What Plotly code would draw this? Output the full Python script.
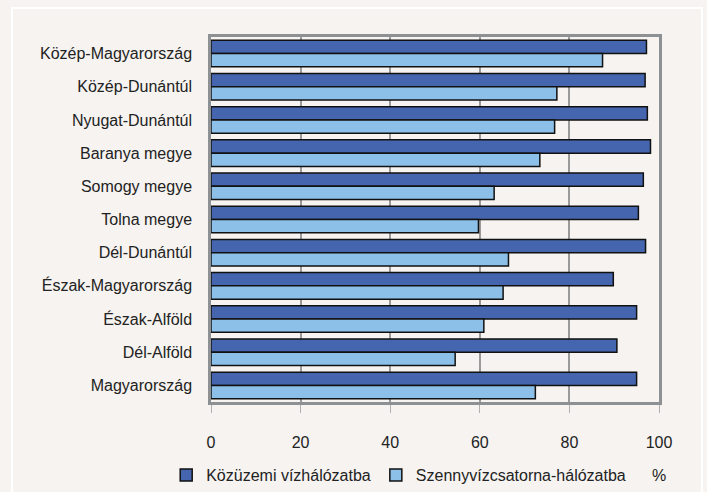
import plotly.graph_objects as go

categories = ["Közép-Magyarország", "Közép-Dunántúl", "Nyugat-Dunántúl", "Baranya megye",
              "Somogy megye", "Tolna megye", "Dél-Dunántúl", "Észak-Magyarország",
              "Észak-Alföld", "Dél-Alföld", "Magyarország"]
kozuzemi = [97.2, 96.9, 97.4, 98.1, 96.5, 95.4, 97.0, 89.8, 95.0, 90.6, 95.0]
szenny = [87.4, 77.2, 76.7, 73.4, 63.2, 59.7, 66.4, 65.2, 60.9, 54.5, 72.4]
series_names = ["Közüzemi vízhálózatba", "Szennyvízcsatorna-hálózatba"]
x_ticks = [0, 20, 40, 60, 80, 100]

FONT = "Liberation Sans, Arial, sans-serif"
BG = "#f6f3f0"

fig = go.Figure()
fig.add_trace(go.Bar(y=categories, x=kozuzemi, name=series_names[0], orientation="h",
                     marker=dict(color="#4566ae", line=dict(color="#111111", width=1.5))))
fig.add_trace(go.Bar(y=categories, x=szenny, name=series_names[1], orientation="h",
                     marker=dict(color="#8dc0e8", line=dict(color="#111111", width=1.5))))

fig.update_layout(
    width=707, height=492,
    margin=dict(l=211, r=48, t=37, b=90, autoexpand=False),
    paper_bgcolor=BG, plot_bgcolor=BG,
    barmode="group", bargap=0.2, bargroupgap=0,
    font=dict(family=FONT, size=16, color="#222222"),
    showlegend=True,
    legend=dict(orientation="h", x=-0.1, xanchor="left", y=-0.2, yanchor="middle",
                font=dict(size=16), bgcolor="rgba(0,0,0,0)",
                traceorder="normal"),
    xaxis=dict(range=[0, 100], tickvals=x_ticks, showgrid=True, gridcolor="#9a9a9a",
               gridwidth=1.5, showline=True, linecolor="#8e9194", linewidth=2.5, mirror=True,
               ticks="outside", ticklen=8, tickcolor="#b0b0b0", ticklabelstandoff=16,
               zeroline=False, fixedrange=True, automargin=False),
    yaxis=dict(autorange="reversed", showline=True, linecolor="#8e9194", linewidth=2.5,
               mirror=True, ticks="", ticklabelstandoff=13, showgrid=False, automargin=False),
    shapes=[dict(type="rect", xref="paper", yref="paper", x0=-0.4442, x1=1.096,
                 y0=-0.27, y1=1.0795, line=dict(color="white", width=2), layer="above")],
    annotations=[dict(text="%", xref="paper", yref="paper", x=1.0, y=-0.2,
                      xanchor="center", yanchor="middle", showarrow=False,
                      font=dict(size=16))],
)

fig.write_html("out.html", config={"displayModeBar": False},
               post_script="document.body.style.margin='0';")
